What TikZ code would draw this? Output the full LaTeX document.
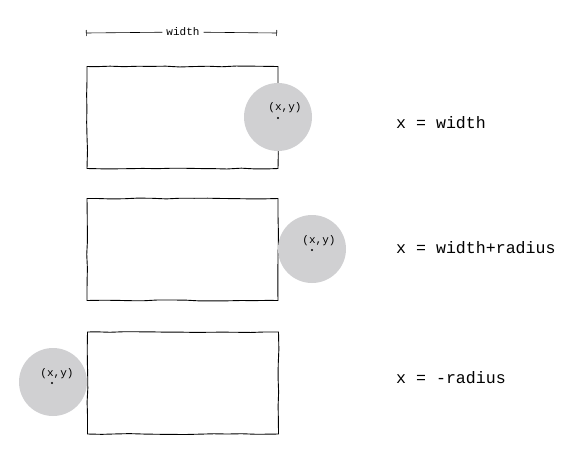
\documentclass[tikz,border=0pt]{standalone}
\usepackage{fontspec}
\setmonofont{Liberation Mono}
\usepackage{tikz}
\usetikzlibrary{arrows.meta}
\usetikzlibrary{positioning}
\usetikzlibrary{decorations.pathmorphing}
\definecolor{blobgray}{RGB}{208,208,210}
\tikzset{>=latex}
\tikzstyle{box} = [rectangle, draw=black, line width=0.9pt, minimum width=191pt, minimum height=102pt, inner sep=0pt, decorate, decoration={random steps, segment length=14pt, amplitude=0.5pt}]
\tikzstyle{blob} = [circle, fill=blobgray, minimum size=68pt, inner sep=0pt]
\tikzstyle{pt} = [circle, fill=black, minimum size=2.4pt, inner sep=0pt]
\tikzstyle{lbl} = [font=\ttfamily\fontsize{11}{13}\selectfont, inner sep=0pt]
\tikzstyle{eq} = [font=\ttfamily\fontsize{16.6}{19}\selectfont, anchor=west, inner sep=0pt]

\begin{document}
\begin{tikzpicture}[x=1pt, y=-1pt]
\useasboundingbox (0,0) rectangle (571,448);
\coordinate (WL) at (86,33);
\coordinate (WR) at (277,33);
\node [lbl, inner xsep=4pt] (W) at (183,32) {width};
\draw [{Bar[width=6pt]}-, line width=0.6pt] (WL) to (W);
\draw [-{Bar[width=6pt]}, line width=0.6pt] (W) to (WR);

\node [box] (R1) at (182.5,117.5) {};
\node [blob] (C1) at (278,117) {};
\node [pt] (P1) at (278,118) {};
\node [lbl] (L1) at (285,108) {(x,y)};
\node [eq] (E1) at (396,123) {x = width};

\node [box] (R2) at (182.5,249.5) {};
\node [blob] (C2) at (312,249) {};
\node [pt] (P2) at (312,250) {};
\node [lbl] (L2) at (319,241) {(x,y)};
\node [eq] (E2) at (396,248) {x = width+radius};

\node [box] (R3) at (183,383) {};
\node [blob] (C3) at (53,382) {};
\node [pt] (P3) at (52,383) {};
\node [lbl] (L3) at (57,374) {(x,y)};
\node [eq] (E3) at (396,378) {x = -radius};
\end{tikzpicture}
\end{document}
